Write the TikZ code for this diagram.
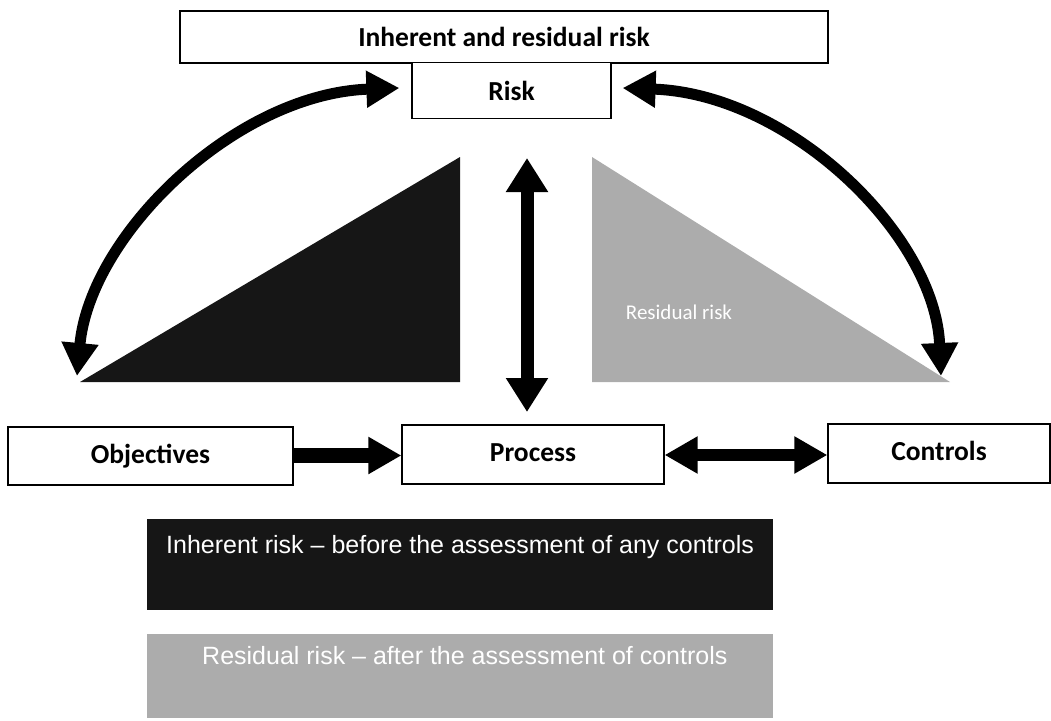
\documentclass[tikz,border=0pt]{standalone}
\usepackage{fontspec}
\setmainfont{Carlito}
\newfontfamily\arialf{Liberation Sans}
\usetikzlibrary{arrows.meta}
\definecolor{darkfill}{RGB}{22,22,22}
\definecolor{lightfill}{RGB}{172,172,172}
\tikzset{
  box/.style={draw=black, line width=1.2pt, fill=white, font=\bfseries\fontsize{27.5}{30}\selectfont, inner sep=0pt},
  band/.style={inner sep=0pt, text=white, font=\arialf\fontsize{25}{28}\selectfont, anchor=north west},
  bigtri/.tip={Triangle[length=33pt,width=35pt]},
  vtri/.tip={Triangle[length=34pt,width=40pt]},
}
\begin{document}
\begin{tikzpicture}[x=1pt,y=-1pt]
\useasboundingbox (0,0) rectangle (1051,720);
% triangles
\fill[darkfill] (80,382) -- (460,157) -- (460,382) -- cycle;
\fill[lightfill] (592,157) -- (592,382) -- (950,382) -- cycle;
\node[text=white, font=\fontsize{21}{23}\selectfont] (rr) at (679,312) {Residual risk};
% boxes
\node[box, minimum width=648pt, minimum height=52pt] (top) at (504,37) {Inherent and residual risk};
\node[box, minimum width=199pt, minimum height=56pt, anchor=north] (risk) at (511.5,62) {Risk};
\node[box, minimum width=285pt, minimum height=58pt] (obj) at (150.5,456) {\raisebox{2pt}{Objectives}};
\node[box, minimum width=262pt, minimum height=59pt] (proc) at (533,454.5) {\raisebox{3pt}{Process}};
\node[box, minimum width=222pt, minimum height=59pt] (ctrl) at (939,453.5) {\raisebox{5pt}{Controls}};
% bands
\fill[darkfill] (147,519) rectangle (773,610);
\node[band] (inh) at (166,535) {Inherent risk – before the assessment of any controls};
\fill[lightfill] (147,634) rectangle (773,718);
\node[band] (res) at (202,646) {Residual risk – after the assessment of controls};
% coordinates
\coordinate (lt) at (77,376);
\coordinate (la) at ([xshift=-12pt]risk.west |- 0,88);
\coordinate (ra) at ([xshift=11pt]risk.east |- 0,88);
\coordinate (rt) at (941,376);
\coordinate (vt) at (527,158);
\coordinate (vb) at (527,412);
% curved arrows
\draw[line width=11pt, bigtri-bigtri]
  (lt) .. controls (90,235) and (235,94) .. (la);
\draw[line width=11pt, bigtri-bigtri]
  (ra) .. controls (790,94) and (935,235) .. (rt);
% vertical arrow
\draw[line width=13pt, vtri-vtri] (vt) -- (vb);
% horizontal arrows
\draw[line width=15pt, -bigtri] (obj.east |- 0,455.5) -- (proc.west |- 0,455.5);
\draw[line width=12pt, bigtri-bigtri] (proc.east |- 0,455) -- (ctrl.west |- 0,455);
\end{tikzpicture}
\end{document}
